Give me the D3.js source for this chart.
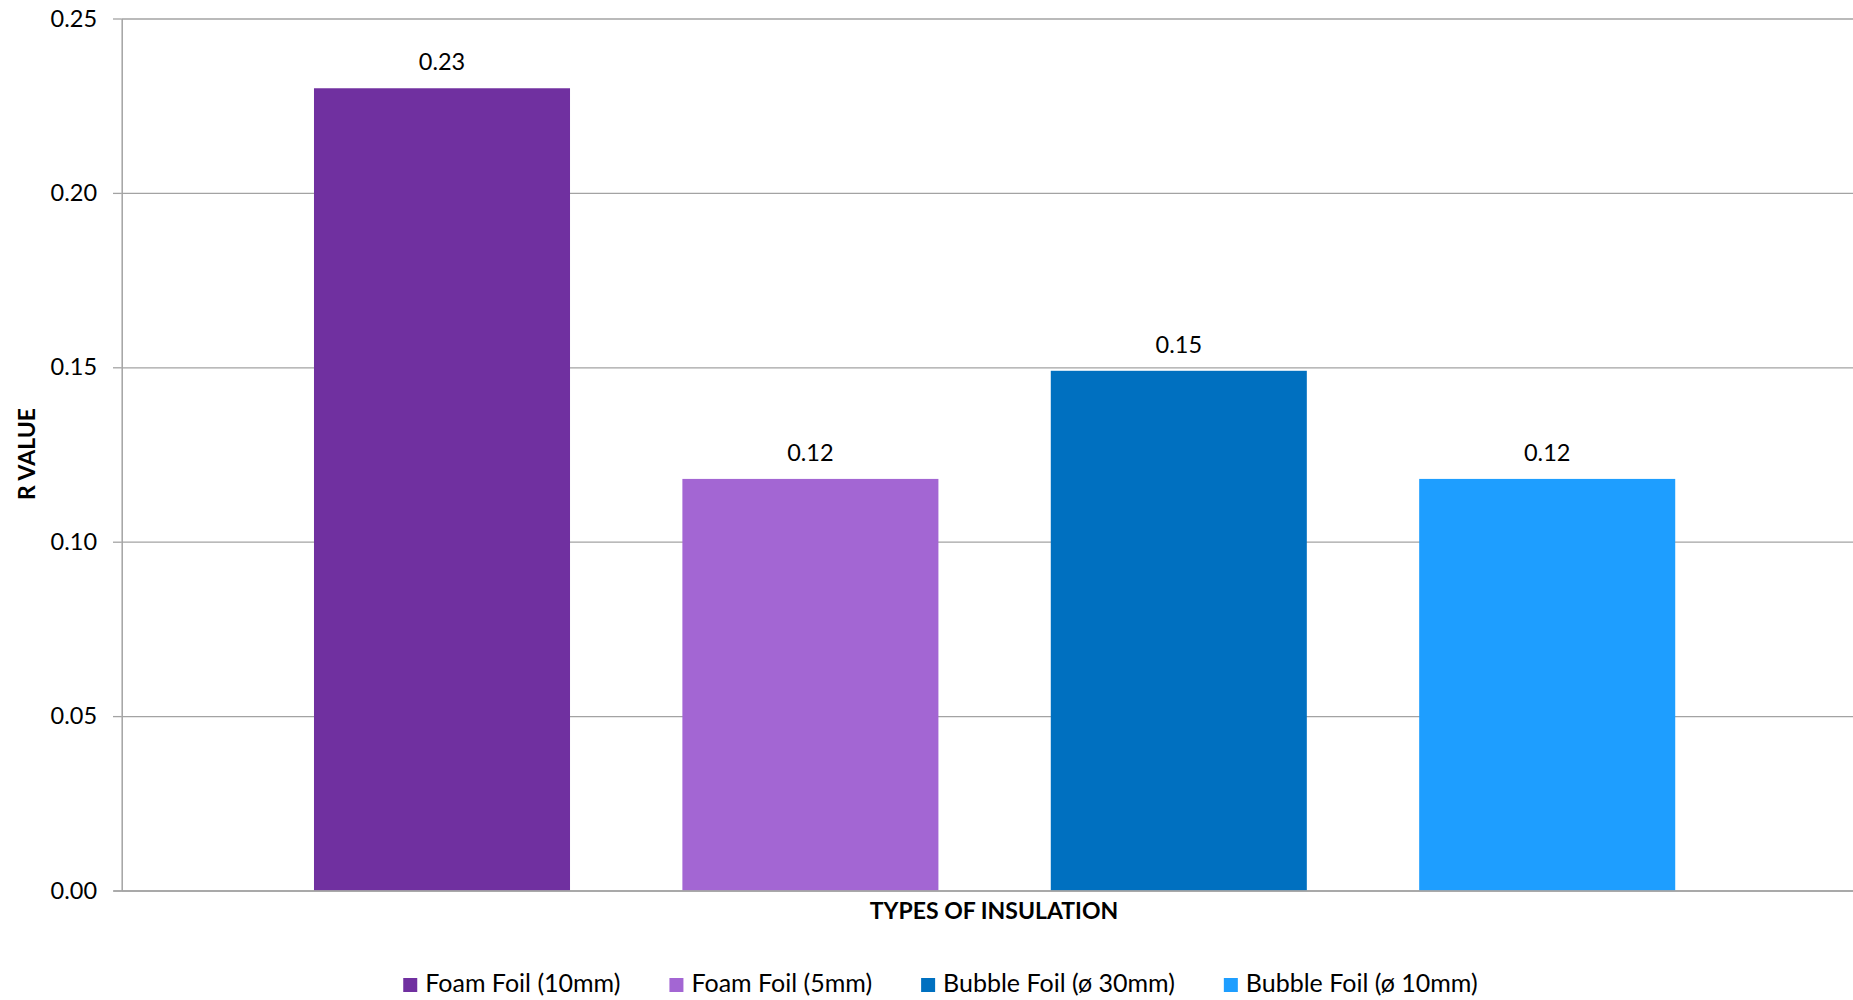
<!DOCTYPE html>
<html>
<head>
<meta charset="utf-8">
<script src="https://cdn.jsdelivr.net/npm/d3@7/dist/d3.min.js"></script>
<style>
  html, body { margin: 0; padding: 0; background: #ffffff; }
  svg { display: block; }
  text { font-family: Lato, "Liberation Sans", sans-serif; fill: #000; }
</style>
</head>
<body>
<svg id="chart" width="1853" height="1000"></svg>
<script>
// Insulation types and their measured R values
const categories = ["Foam Foil (10mm)", "Foam Foil (5mm)", "Bubble Foil (ø 30mm)", "Bubble Foil (ø 10mm)"];
const rValues = [0.230, 0.118, 0.149, 0.118];
const barColors = ["#7030A0", "#A366D3", "#0070C0", "#1E9EFF"];
const yTicks = [0.00, 0.05, 0.10, 0.15, 0.20, 0.25];
const yTitle = "R VALUE";
const xTitle = "TYPES OF INSULATION";

const W = 1853, H = 1000;
const plot = { left: 121.7, right: 1853, top: 18.5, bottom: 890.5 };
const gridColor = "#a3a3a3";

const svg = d3.select("#chart");

const y = d3.scaleLinear().domain([0, 0.25]).range([plot.bottom, plot.top]);
const x = d3.scaleBand()
  .domain(categories)
  .range([257.8, 1731.4])
  .paddingInner(0.305)
  .paddingOuter(0.1525);

const fmt = d3.format(".2f");

// Horizontal gridlines
const grid = svg.append("g")
  .attr("transform", `translate(${plot.left},0)`)
  .call(d3.axisLeft(y).tickValues(yTicks).tickSize(-(plot.right - plot.left)).tickFormat(""));
grid.select(".domain").remove();
grid.selectAll("line").attr("stroke", gridColor).attr("stroke-width", 1.3);

// Bars
svg.append("g").selectAll("rect")
  .data(categories)
  .join("rect")
  .attr("x", d => x(d))
  .attr("width", x.bandwidth())
  .attr("y", (d, i) => y(rValues[i]))
  .attr("height", (d, i) => y(0) - y(rValues[i]))
  .attr("fill", (d, i) => barColors[i]);

// Value labels above bars
svg.append("g").selectAll("text")
  .data(categories)
  .join("text")
  .attr("x", d => x(d) + x.bandwidth() / 2)
  .attr("y", (d, i) => y(rValues[i]) - 18)
  .attr("text-anchor", "middle")
  .style("font-size", "23.5px")
  .text((d, i) => fmt(rValues[i]));

// Y axis with tick labels
const yAxis = svg.append("g")
  .attr("transform", `translate(${plot.left},0)`)
  .call(d3.axisLeft(y).tickValues(yTicks).tickSize(8.7).tickSizeOuter(0).tickPadding(16).tickFormat(fmt));
yAxis.select(".domain").attr("stroke", gridColor).attr("stroke-width", 1.5);
yAxis.selectAll(".tick line").attr("stroke", gridColor).attr("stroke-width", 1.3);
yAxis.selectAll(".tick text")
  .style("font-family", "Lato, 'Liberation Sans', sans-serif")
  .style("font-size", "23.5px")
  .attr("fill", "#000");

// Category baseline
svg.append("g")
  .attr("transform", `translate(0,${plot.bottom})`)
  .call(d3.axisBottom(d3.scaleLinear().domain([0, 1]).range([113, plot.right])).tickValues([]).tickSizeOuter(0))
  .select(".domain").attr("stroke", gridColor).attr("stroke-width", 1.5);

// Axis titles
svg.append("text")
  .attr("transform", "translate(35,454) rotate(-90)")
  .attr("text-anchor", "middle")
  .style("font-size", "23px")
  .style("font-weight", "bold")
  .text(yTitle);

svg.append("text")
  .attr("x", 994)
  .attr("y", 919)
  .attr("text-anchor", "middle")
  .style("font-size", "23px")
  .style("font-weight", "bold")
  .text(xTitle);

// Legend, laid out left to right and centred
const legend = svg.append("g");
const items = legend.selectAll("g")
  .data(categories)
  .join("g");
items.append("rect")
  .attr("width", 14).attr("height", 14)
  .attr("y", -14)
  .attr("fill", (d, i) => barColors[i]);
items.append("text")
  .attr("x", 22)
  .attr("y", 0)
  .style("font-size", "25px")
  .text(d => d);
let cursor = 0;
items.each(function () {
  const g = d3.select(this);
  const tw = g.select("text").node().getComputedTextLength();
  g.attr("transform", `translate(${cursor},992)`);
  cursor += 22 + tw + 49;
});
const totalW = cursor - 49;
legend.attr("transform", `translate(${940.4 - totalW / 2},0)`);
</script>
</body>
</html>
